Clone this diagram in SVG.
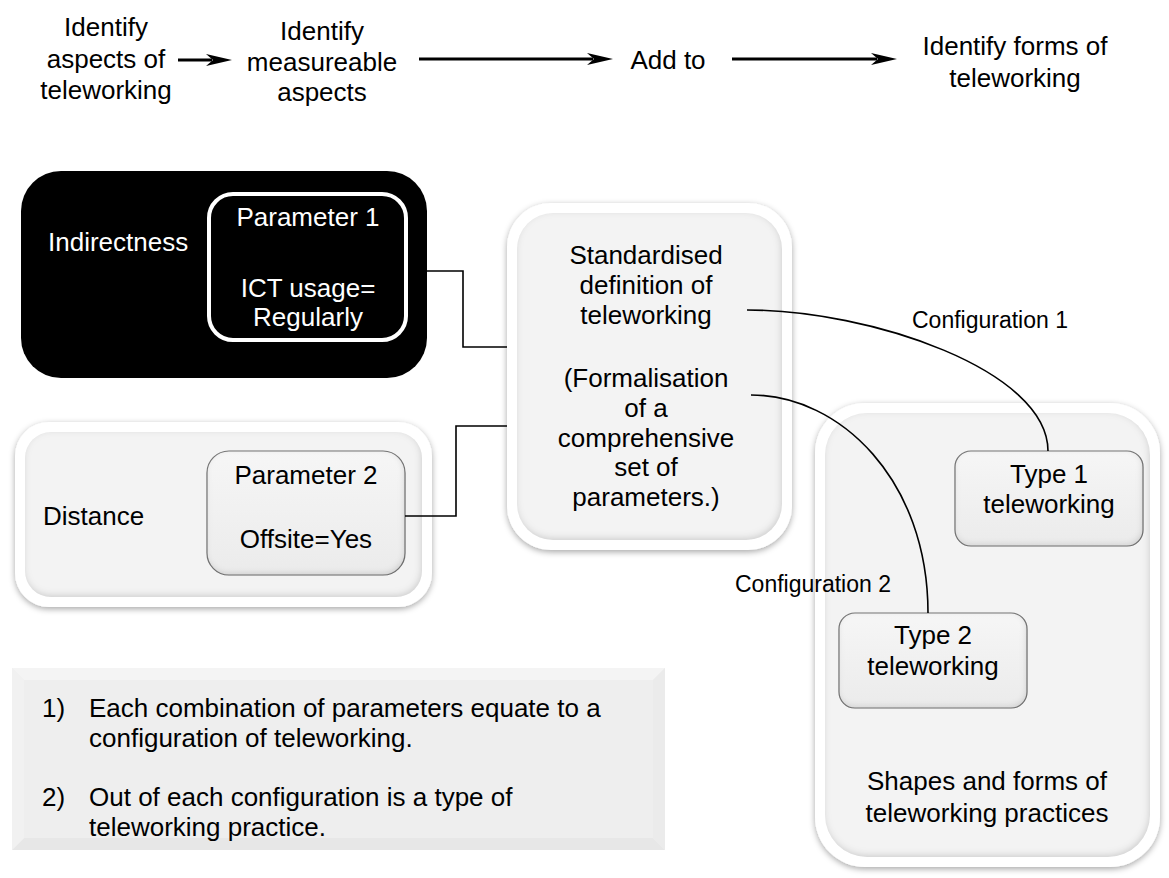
<svg xmlns="http://www.w3.org/2000/svg" width="1169" height="878" viewBox="0 0 1169 878">
  <style>
    .t { font-family: "Liberation Sans", Arial, sans-serif; font-size: 26px; fill: #000; }
    .c { text-anchor: middle; }
    .w { fill: #fff; }
    .lbl { font-size: 23px; }
    .ring { fill: #fff; filter: url(#halo); }
    .panel { fill: #f3f3f3; filter: url(#inset); }
    .chip { fill: url(#chipFill); stroke: #7a7a7a; stroke-width: 1.2; filter: url(#inset); }
    .wire { fill: none; stroke: #000; stroke-width: 1.6; }
    .flow { fill: none; stroke: #000; stroke-width: 3; marker-end: url(#stealth); }
  </style>
  <defs>
    <marker id="stealth" markerUnits="userSpaceOnUse" markerWidth="28" markerHeight="12" refX="6" refY="6" orient="auto">
      <path d="M0,0 L26,6 L0,12 L7,6 Z" fill="#000"/>
    </marker>
    <filter id="halo" x="-10%" y="-10%" width="120%" height="120%">
      <feDropShadow dx="0" dy="2" stdDeviation="3" flood-color="#000" flood-opacity="0.35"/>
    </filter>
    <filter id="inset" x="-5%" y="-5%" width="110%" height="110%">
      <feComponentTransfer in="SourceAlpha" result="inv">
        <feFuncA type="table" tableValues="1 0"/>
      </feComponentTransfer>
      <feGaussianBlur in="inv" stdDeviation="3"/>
      <feOffset dx="-1" dy="-2" result="off"/>
      <feFlood flood-color="#000" flood-opacity="0.3"/>
      <feComposite in2="off" operator="in"/>
      <feComposite in2="SourceAlpha" operator="in" result="sh"/>
      <feMerge>
        <feMergeNode in="SourceGraphic"/>
        <feMergeNode in="sh"/>
      </feMerge>
    </filter>
    <linearGradient id="chipFill" x1="0" y1="0" x2="0" y2="1">
      <stop offset="0" stop-color="#f6f6f6"/>
      <stop offset="1" stop-color="#ebebeb"/>
    </linearGradient>
  </defs>

  <!-- process steps along the top -->
  <g id="step-aspects">
    <text class="t c" x="106" y="36">Identify</text>
    <text class="t c" x="106" y="68">aspects of</text>
    <text class="t c" x="106" y="99">teleworking</text>
  </g>
  <g id="step-measureable">
    <text class="t c" x="322" y="40">Identify</text>
    <text class="t c" x="322" y="71">measureable</text>
    <text class="t c" x="322" y="101">aspects</text>
  </g>
  <g id="step-add">
    <text class="t c" x="668" y="69">Add to</text>
  </g>
  <g id="step-forms">
    <text class="t c" x="1015" y="55">Identify forms of</text>
    <text class="t c" x="1015" y="87">teleworking</text>
  </g>

  <!-- Indirectness dimension -->
  <g id="indirectness">
    <rect x="21" y="171" width="406" height="207" rx="40" fill="#000"/>
    <text class="t w" x="48" y="251">Indirectness</text>
    <g id="parameter-1">
      <rect x="209" y="194" width="197" height="146" rx="24" fill="#000" stroke="#fff" stroke-width="4"/>
      <text class="t c w" x="308" y="226">Parameter 1</text>
      <text class="t c w" x="308" y="297">ICT usage=</text>
      <text class="t c w" x="308" y="326">Regularly</text>
    </g>
  </g>

  <!-- Distance dimension -->
  <g id="distance">
    <rect class="ring" x="15" y="422" width="417" height="185" rx="34"/>
    <rect class="panel" x="25" y="432" width="397" height="165" rx="26"/>
    <text class="t" x="43" y="525">Distance</text>
    <g id="parameter-2">
      <rect class="chip" x="207" y="451" width="198" height="124" rx="22"/>
      <text class="t c" x="306" y="484">Parameter 2</text>
      <text class="t c" x="306" y="548">Offsite=Yes</text>
    </g>
  </g>

  <!-- standardised definition -->
  <g id="definition">
    <rect class="ring" x="507" y="203" width="285" height="347" rx="44"/>
    <rect class="panel" x="517" y="213" width="265" height="327" rx="36"/>
    <text class="t c" x="646" y="264">Standardised</text>
    <text class="t c" x="646" y="294">definition of</text>
    <text class="t c" x="646" y="324">teleworking</text>
    <text class="t c" x="646" y="387">(Formalisation</text>
    <text class="t c" x="646" y="417">of a</text>
    <text class="t c" x="646" y="447">comprehensive</text>
    <text class="t c" x="646" y="476">set of</text>
    <text class="t c" x="646" y="506">parameters.)</text>
  </g>

  <!-- resulting practices -->
  <g id="practices">
    <rect class="ring" x="815" y="403" width="345" height="464" rx="50"/>
    <rect class="panel" x="825" y="413" width="325" height="444" rx="42"/>
    <text class="t c" x="987" y="790">Shapes and forms of</text>
    <text class="t c" x="987" y="822">teleworking practices</text>
  </g>
  <g id="type-1">
    <rect class="chip" x="955" y="451" width="188" height="95" rx="16"/>
    <text class="t c" x="1049" y="483">Type 1</text>
    <text class="t c" x="1049" y="513">teleworking</text>
  </g>
  <g id="type-2">
    <rect class="chip" x="839" y="613" width="188" height="95" rx="16"/>
    <text class="t c" x="933" y="644">Type 2</text>
    <text class="t c" x="933" y="675">teleworking</text>
  </g>

  <!-- notes -->
  <g id="notes">
    <rect x="12" y="668" width="653" height="182" fill="#eeeeee"/>
    <polygon points="12,668 665,668 653,680 24,680" fill="#f4f4f4"/>
    <polygon points="12,850 665,850 653,838 24,838" fill="#e7e7e7"/>
    <polygon points="12,668 24,680 24,838 12,850" fill="#f1f1f1"/>
    <polygon points="665,668 653,680 653,838 665,850" fill="#ebebeb"/>
    <text class="t" x="42" y="717">1)</text>
    <text class="t" x="89" y="717">Each combination of parameters equate to a</text>
    <text class="t" x="89" y="747">configuration of teleworking.</text>
    <text class="t" x="42" y="806">2)</text>
    <text class="t" x="89" y="806">Out of each configuration is a type of</text>
    <text class="t" x="89" y="836">teleworking practice.</text>
  </g>

  <!-- connectors -->
  <g id="connectors">
    <line class="flow" x1="178" y1="60" x2="212" y2="60"/>
    <line class="flow" x1="419" y1="59" x2="593" y2="59"/>
    <line class="flow" x1="732" y1="59" x2="877" y2="59"/>
    <polyline class="wire" points="408,271 463,271 463,347 507,347"/>
    <polyline class="wire" points="405,516 456,516 456,426 507,426"/>
    <path class="wire" d="M747,310 C870,310 1048,370 1048,451"/>
    <path class="wire" d="M751,395 C840,395 928,480 928,613"/>
    <text class="t lbl" x="912" y="328">Configuration 1</text>
    <text class="t lbl" x="735" y="592">Configuration 2</text>
  </g>
</svg>
